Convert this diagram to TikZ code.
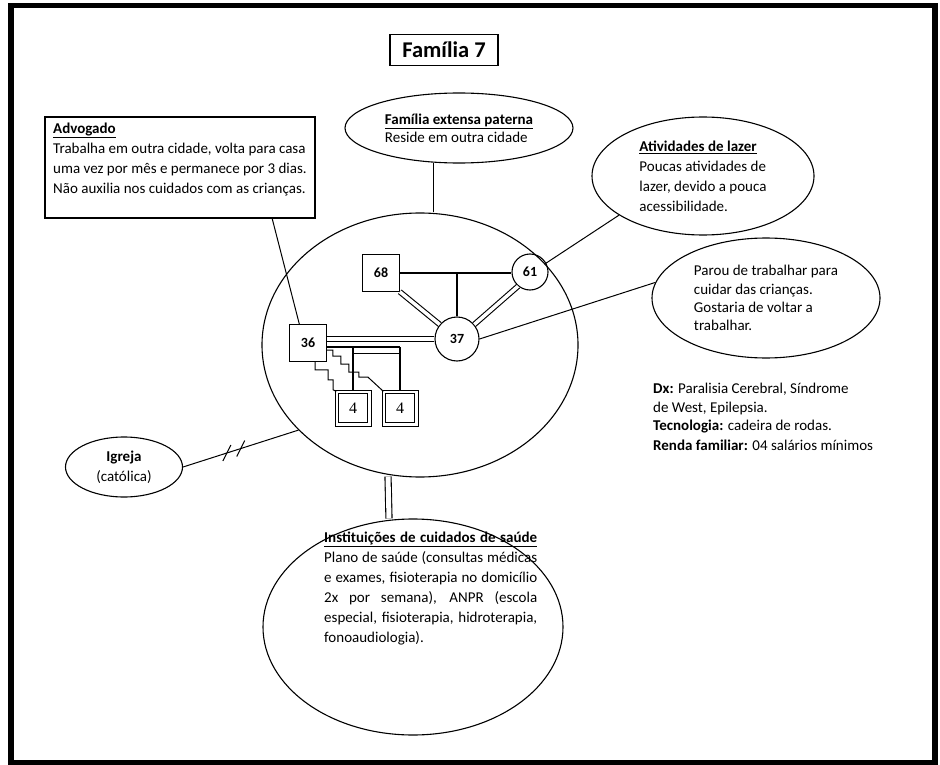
\documentclass[tikz,border=0pt]{standalone}
\usepackage{fontspec}
\setmainfont{Carlito}
\newfontfamily\numfont{Liberation Serif}
\usetikzlibrary{shapes,calc}

\begin{document}
\begin{tikzpicture}[x=1pt,y=-1pt]
\tikzstyle{txt} = [font=\fontsize{15}{20}\selectfont,inner sep=0pt,align=left];
\tikzstyle{eco} = [draw,ellipse,line width=1.1pt,inner sep=0pt,font=\fontsize{15}{18.3}\selectfont,align=left];
\tikzstyle{male} = [draw,rectangle,line width=1.1pt,minimum size=36.5pt,inner sep=0pt,font=\bfseries\fontsize{14}{14}\selectfont];
\tikzstyle{female} = [draw,circle,line width=1.1pt,inner sep=0pt,font=\bfseries\fontsize{14}{14}\selectfont];
\tikzstyle{child} = [draw,rectangle,double,double distance=2.6pt,line width=1pt,minimum size=32.4pt,inner sep=0pt,font=\numfont\fontsize{16}{16}\selectfont];
\tikzstyle{rel} = [line width=1.8pt];
\tikzstyle{wed} = [double,double distance=3.5pt,line width=1.1pt];
\useasboundingbox (0,0) rectangle (940,765);
\draw[line width=5.5pt] (11,5.5) rectangle (935,762.5);

\node[draw,line width=1.1pt,minimum width=108pt,minimum height=31pt,font=\bfseries\fontsize{22.5}{22.5}\selectfont] (title) at (444,50) {Família 7};

% ecomapa
\node[eco,minimum width=228pt,minimum height=70pt] (Fam) at (459,128) {\underline{\textbf{Família extensa paterna}}\\Reside em outra cidade};
\node[eco,minimum width=316pt,minimum height=264pt] (Fam7) at (420,345) {};
\node[draw,line width=1.1pt,minimum width=270pt,minimum height=101pt] (Adv) at (180,167.5) {};
\node[txt,anchor=north west] (AdvTxt) at (53,123) {\underline{\textbf{Advogado}}\\Trabalha em outra cidade, volta para casa\\uma vez por mês e permanece por 3 dias.\\Não auxilia nos cuidados com as crianças.};
\node[eco,minimum width=222pt,minimum height=118pt,font=\fontsize{15}{20}\selectfont] (Laz) at (703,176) {\underline{\textbf{Atividades de lazer}}\\Poucas atividades de\\lazer, devido a pouca\\acessibilidade.};
\node[eco,minimum width=228pt,minimum height=120pt] (Trab) at (766,298) {Parou de trabalhar para\\cuidar das crianças.\\Gostaria de voltar a\\trabalhar.};
\node[eco,minimum width=117pt,minimum height=60pt,align=center,font=\fontsize{15}{20}\selectfont] (Igr) at (124,467) {\textbf{Igreja}\\(católica)};
\node[eco,minimum width=300pt,minimum height=216pt] (Sau) at (413,627) {};
\node[txt,anchor=north west] (SauTxt) at (324,532) {\underline{\makebox[213pt][s]{\textbf{Instituições de cuidados de saúde}}}\\
\makebox[213pt][s]{Plano de saúde (consultas médicas}\\
\makebox[213pt][s]{e exames, fisioterapia no domicílio}\\
\makebox[213pt][s]{2x por semana), ANPR (escola}\\
\makebox[213pt][s]{especial, fisioterapia, hidroterapia,}\\
fonoaudiologia).};
\node[txt,anchor=north west,font=\fontsize{15}{18.5}\selectfont] (Dx) at (653,383) {\textbf{Dx:} Paralisia Cerebral, Síndrome\\de West, Epilepsia.\\\textbf{Tecnologia:} cadeira de rodas.\\[1pt]\textbf{Renda familiar:} 04 salários mínimos};

% genograma
\node[male] (p68) at (381,273) {68};
\node[female,minimum size=36pt] (p61) at (530,272) {61};
\node[female,minimum size=44pt] (p37) at (457,339) {37};
\node[male] (p36) at (308,343) {36};
\node[child] (c1) at (353,408) {4};
\node[child] (c2) at (400,408) {4};

\draw[rel] (p68.east) -- (p68.east -| p61.west);
\coordinate (v4) at (p37.north |- p68.east);
\draw[rel] (v4) -- (p37.north);
\draw[wed] (p68.south east) -- (p37.140);
\draw[wed] (p61.230) -- (p37.40);
\draw[wed] (p36.east |- p37.west) -- (p37.west);
\coordinate (v5) at ($(p36.east)+(0,4)$);
\draw[rel] (v5) -- (v5 -| c2.north);
\draw[rel] (v5 -| c1.north) -- (c1.north);
\draw[rel] (v5 -| c2.north) -- (c2.north);
\draw[line width=1pt] ($(v5 -| c1.north)+(0,6)$) -- ($(v5 -| c2.north)+(0,6)$);
\draw[line width=1pt] ($(p36.south)+(7,0)$) -- ++(0,8) -- ++(13,0) -- ++(0,10) -- ++(5,0) -- ++(0,10) -- (c1.north west);
\draw[line width=1pt] ($(p36.east)+(0,7)$) -- ++(6,0) -- ++(0,6) -- ++(8,0) -- ++(0,8) -- ++(8,0) -- ++(0,8) -- ++(10,0) -- ++(0,5) -- ++(9,0) -- (c2.north west);

% ligacoes
\draw[line width=1pt] ($(Adv.south west)!0.84!(Adv.south east)$) -- ($(p36.north west)!0.27!(p36.north east)$);
\coordinate (v1) at ($(Fam.south)+(-26,-1)$);
\draw[line width=1pt] (v1) -- (v1 |- Fam7.north);
\draw[line width=1pt] (Fam7.33) -- (Laz.205);
\draw[line width=1pt] (p37.east) -- (Trab.172);
\draw[line width=1pt] (Igr.east) -- coordinate[pos=0.38] (v2) coordinate[pos=0.5] (v3) (Fam7.215);
\draw[line width=1pt] (v2) ++(-4,8) -- ++(8,-16);
\draw[line width=1pt] (v3) ++(-4,8) -- ++(8,-16);
\draw[double,double distance=5pt,line width=1.1pt] ($(Fam7.south)+(-32,-1)$) -- ($(Sau.north)+(-24,0)$);

\end{tikzpicture}
\end{document}
